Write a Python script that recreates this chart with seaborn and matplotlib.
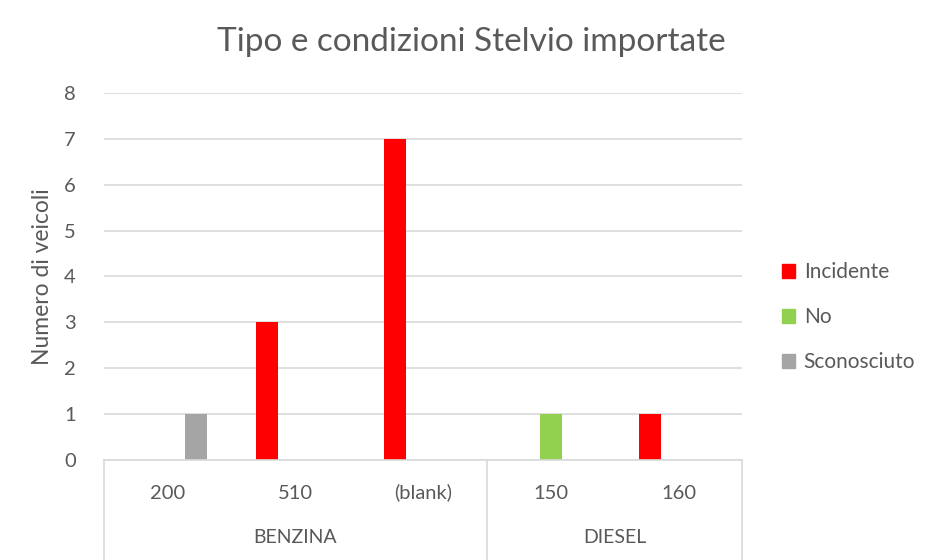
import numpy as np
import pandas as pd
import matplotlib
matplotlib.use("Agg")
import matplotlib.pyplot as plt
import matplotlib.transforms as mtransforms
import seaborn as sns

# data
categories = ['200', '510', '(blank)', '150', '160']
groups = ['BENZINA', 'BENZINA', 'BENZINA', 'DIESEL', 'DIESEL']
incidente = [0, 3, 7, 0, 1]
no = [0, 0, 0, 1, 0]
sconosciuto = [1, 0, 0, 0, 0]
series_names = ['Incidente', 'No', 'Sconosciuto']
series_colors = ['#FF0000', '#92D050', '#A5A5A5']

rows = []
for name, vals in zip(series_names, [incidente, no, sconosciuto]):
    for cat, v in zip(categories, vals):
        rows.append({'categoria': cat, 'condizione': name, 'veicoli': v})
df = pd.DataFrame(rows)

sns.set_theme(style='white')
plt.rcParams['font.family'] = ['Lato', 'DejaVu Sans']
text_color = '#595959'
line_color = '#D9D9D9'

fig = plt.figure(figsize=(9.42, 5.6), dpi=100)
ax = fig.add_axes([0.110, 0.179, 0.678, 0.655])

sns.barplot(data=df, x='categoria', y='veicoli', hue='condizione',
            order=categories, hue_order=series_names,
            palette=series_colors, width=0.66, gap=0.22,
            saturation=1, errorbar=None, legend=False, linewidth=0, ax=ax)

ax.set_xlim(-0.5, len(categories) - 0.5)
ax.set_ylim(0, 8)
ax.set_yticks(range(0, 9))
ax.yaxis.grid(True, color=line_color, linewidth=1.2)
ax.set_axisbelow(True)
for side in ['left', 'right', 'top']:
    ax.spines[side].set_visible(False)
ax.spines['bottom'].set_color(line_color)
ax.spines['bottom'].set_linewidth(1.2)

ax.tick_params(axis='y', length=0, pad=20, labelsize=14.5, labelcolor=text_color)
ax.tick_params(axis='x', length=0, labelbottom=False)
ax.set_xlabel('')
ax.set_ylabel('Numero di veicoli', fontsize=16.5, color=text_color, labelpad=8)

# two-level category axis drawn as text, baseline aligned
trans = mtransforms.blended_transform_factory(ax.transData, ax.transAxes)
for i, cat in enumerate(categories):
    ax.text(i, -0.106, cat, transform=trans, ha='center', va='baseline',
            fontsize=14.5, color=text_color)
group_names = list(dict.fromkeys(groups))
edges = [-0.5]
for g in group_names:
    idx = [i for i, gg in enumerate(groups) if gg == g]
    ax.text(np.mean(idx), -0.226, g, transform=trans, ha='center', va='baseline',
            fontsize=14, color=text_color)
    edges.append(max(idx) + 0.5)
for e in edges:
    ax.plot([e, e], [0, -0.28], transform=trans, color=line_color,
            linewidth=1.2, clip_on=False)

handles = [plt.Rectangle((0, 0), 1, 1, color=c) for c in series_colors]
fig.legend(handles, series_names, loc='center left', bbox_to_anchor=(0.81, 0.434),
           frameon=False, fontsize=15, labelcolor=text_color,
           handlelength=0.65, handleheight=0.65, handletextpad=0.4,
           labelspacing=1.2)

fig.suptitle('Tipo e condizioni Stelvio importate', x=0.5, y=0.952,
             fontsize=24, color=text_color)

fig.savefig('out.png', dpi=100)
